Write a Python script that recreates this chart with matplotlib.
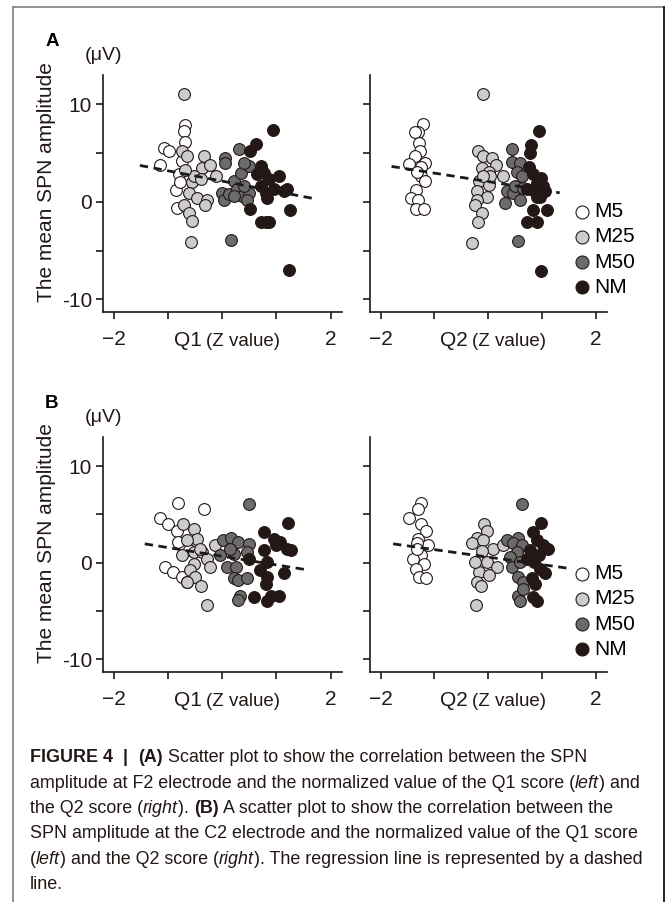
import matplotlib
matplotlib.use("Agg")
import matplotlib.pyplot as plt
from matplotlib.lines import Line2D

plt.rcParams['font.family'] = ['Liberation Sans', 'DejaVu Sans']

W, H = 666, 902

# ---------------- data ----------------
groups = ["M5", "M25", "M50", "NM"]
group_colors = ["#ffffff", "#cccccc", "#6b6b6b", "#231815"]

# Panel A, Q1
A_Q1_M5_x = [-1.14, -1.08, -0.99, -0.69, -0.71, -0.68, -0.80, -0.86, -0.83, -0.75, -0.78]
A_Q1_M5_y = [3.8, 5.5, 5.2, 7.9, 7.3, 6.1, 2.8, 1.2, -0.6, 4.2, 2.0]
A_Q1_M25_x = [-0.71, -0.74, -0.65, -0.34, -0.37, -0.22, -0.12, -0.56, -0.52, -0.62, -0.46, -0.28, -0.31, -0.71, -0.62, -0.56, -0.57, -0.40, -0.68]
A_Q1_M25_y = [11.1, 5.2, 4.7, 4.7, 3.5, 3.8, 2.6, 2.0, 2.6, 0.9, 0.4, 0.2, -0.3, -0.3, -1.1, -2.0, -4.1, 2.3, 3.3]
A_Q1_M50_x = [0.06, 0.31, 0.06, 0.22, 0.34, 0.49, 0.40, 0.00, 0.03, 0.12, 0.28, 0.37, 0.49, 0.46, 0.40, 0.22, 0.17]
A_Q1_M50_y = [4.5, 5.4, 4.0, 2.1, 3.0, 3.7, 4.0, 0.9, 0.2, 0.8, 1.3, 0.6, 0.9, 0.2, 1.6, 0.6, -3.9]
A_Q1_NM_x = [0.62, 0.52, 0.93, 0.71, 0.77, 0.65, 0.86, 1.05, 0.71, 0.80, 0.83, 0.96, 1.14, 1.20, 0.51, 1.25, 0.72, 0.80, 0.86, 1.23]
A_Q1_NM_y = [5.9, 5.2, 7.4, 3.7, 3.0, 2.8, 2.3, 2.6, 1.6, 0.9, 0.4, 1.3, 1.1, 1.3, -0.7, -0.8, -2.1, -2.1, -2.1, -7.0]
A_Q1_fit_x = [-1.52, 1.68]
A_Q1_fit_y = [3.73, 0.34]

# Panel A, Q2
A_Q2_M5_x = [-1.21, -1.31, -1.37, -1.29, -1.27, -1.37, -1.48, -1.17, -1.26, -1.26, -1.17, -1.35, -1.43, -1.31, -1.35, -1.20, -1.33]
A_Q2_M5_y = [8.0, 7.2, 7.2, 6.0, 5.2, 4.7, 3.9, 4.0, 3.6, 2.6, 2.1, 1.2, 0.4, 0.2, -0.7, -0.7, 3.1]
A_Q2_M25_x = [-0.09, -0.19, -0.10, 0.07, 0.15, -0.12, 0.01, 0.27, -0.18, 0.01, -0.21, -0.02, -0.21, -0.24, -0.12, -0.19, -0.30, 0.04, -0.10]
A_Q2_M25_y = [11.1, 5.2, 4.7, 4.5, 3.8, 3.5, 3.1, 2.6, 2.1, 1.7, 1.1, 0.5, 0.2, -0.3, -1.2, -2.1, -4.2, 2.6, 2.6]
A_Q2_M50_x = [0.44, 0.44, 0.59, 0.53, 0.62, 0.35, 0.47, 0.59, 0.32, 0.50, 0.56, 0.65]
A_Q2_M50_y = [5.4, 4.1, 4.0, 3.1, 2.6, 1.1, 0.9, 0.2, -0.1, 1.6, -4.0, 1.4]
A_Q2_NM_x = [0.94, 0.80, 0.78, 0.76, 0.84, 0.99, 0.90, 0.72, 0.84, 1.06, 0.90, 0.84, 1.10, 0.73, 0.90, 0.99, 0.96, 1.02]
A_Q2_NM_y = [7.3, 5.8, 5.0, 3.6, 2.8, 2.4, 1.9, 1.3, 1.2, 1.1, 0.5, -0.8, -0.8, -2.1, -2.1, -7.1, 0.5, 1.6]
A_Q2_fit_x = [-1.80, 1.33]
A_Q2_fit_y = [3.63, 0.92]

# Panel B, Q1
B_Q1_M5_x = [-0.82, -0.33, -1.15, -1.00, -0.84, -0.81, -1.06, -0.90, -0.75, -0.65, -0.62]
B_Q1_M5_y = [6.2, 5.6, 4.6, 4.0, 3.3, 2.1, -0.4, -1.0, -1.5, -2.0, 1.3]
B_Q1_M25_x = [-0.72, -0.53, -0.47, -0.65, -0.13, -0.75, -0.53, -0.38, -0.28, -0.22, -0.53, -0.59, -0.50, -0.65, -0.39, -0.28, -0.41]
B_Q1_M25_y = [4.0, 3.5, 2.5, 2.3, 1.8, 0.8, 1.1, 1.1, 0.4, -0.4, -0.1, -0.8, -1.5, -2.0, -2.4, -4.4, 1.4]
B_Q1_M50_x = [0.49, 0.02, 0.17, 0.30, 0.49, -0.04, 0.21, 0.09, 0.26, 0.46, 0.21, 0.30, 0.46, 0.33, 0.30, 0.15]
B_Q1_M50_y = [6.1, 2.3, 2.6, 2.1, 1.9, 0.8, 0.9, -0.4, -0.4, 1.1, -1.6, -1.8, -1.6, -3.4, -3.9, 1.4]
B_Q1_NM_x = [1.21, 0.77, 0.95, 1.07, 1.20, 1.26, 0.77, 0.49, 0.83, 0.70, 1.14, 0.83, 0.80, 0.58, 0.83, 1.04, 0.90, 1.00]
B_Q1_NM_y = [4.1, 3.2, 2.5, 2.1, 1.4, 1.3, 1.3, 0.4, 0.1, -0.8, -1.1, -1.5, -2.2, -3.5, -4.0, -3.4, -3.4, 1.8]
B_Q1_fit_x = [-1.43, 1.55]
B_Q1_fit_y = [1.95, -0.72]

# Panel B, Q2
B_Q2_M5_x = [-1.26, -1.31, -1.48, -1.26, -1.15, -1.31, -1.12, -1.26, -1.40, -1.20, -1.35, -1.28, -1.15, -1.32, -1.33]
B_Q2_M5_y = [6.2, 5.6, 4.6, 4.0, 3.3, 2.5, 1.8, 0.8, 0.4, -0.1, -0.6, -1.5, -1.6, 2.0, 1.4]
B_Q2_M25_x = [-0.07, -0.02, -0.21, -0.30, -0.10, 0.09, -0.12, 0.28, -0.02, 0.16, -0.18, 0.01, -0.21, -0.14, -0.23, -0.24]
B_Q2_M25_y = [4.0, 3.3, 2.6, 2.0, 2.4, 1.4, 1.2, 1.8, 0.1, -0.4, -1.0, -1.3, -2.0, -2.4, -4.4, 0.1]
B_Q2_M50_x = [0.62, 0.35, 0.56, 0.47, 0.62, 0.53, 0.41, 0.44, 0.59, 0.56, 0.64, 0.56, 0.59, 0.65]
B_Q2_M50_y = [6.1, 2.3, 2.6, 2.0, 1.8, 1.1, 0.6, -0.4, 0.1, -1.5, -2.0, -3.4, -4.0, -2.7]
B_Q2_NM_x = [0.99, 0.83, 0.91, 1.12, 1.02, 0.78, 0.94, 0.85, 0.96, 1.06, 0.81, 0.87, 0.84, 0.90, 0.72]
B_Q2_NM_y = [4.1, 3.2, 2.3, 1.4, 1.8, 1.3, 0.8, 0.1, -0.6, -1.1, -1.6, -2.2, -3.5, -4.0, 0.4]
B_Q2_fit_x = [-1.77, 1.46]
B_Q2_fit_y = [1.95, -0.55]

x_ticks = [-2, -1, 0, 1, 2]
x_ticklabels = ["\u22122", "", "", "", "2"]
y_ticks = [-10, -5, 0, 5, 10]
y_ticklabels = ["-10", "", "0", "", "10"]
y_label = "The mean SPN amplitude"
unit_label = "(\u03bcV)"
caption_lines = [
    [("FIGURE 4", "bold", "normal"), ("  |  ", "bold", "normal"), ("(A)", "bold", "normal"),
     (" Scatter plot to show the correlation between the SPN", "normal", "normal")],
    [("amplitude at F2 electrode and the normalized value of the Q1 score (", "normal", "normal"),
     ("left", "normal", "italic"), (") and", "normal", "normal")],
    [("the Q2 score (", "normal", "normal"), ("right", "normal", "italic"), ("). ", "normal", "normal"),
     ("(B)", "bold", "normal"), (" A scatter plot to show the correlation between the", "normal", "normal")],
    [("SPN amplitude at the C2 electrode and the normalized value of the Q1 score", "normal", "normal")],
    [("(", "normal", "normal"), ("left", "normal", "italic"), (") and the Q2 score (", "normal", "normal"),
     ("right", "normal", "italic"), ("). The regression line is represented by a dashed", "normal", "normal")],
    [("line.", "normal", "normal")],
]

panels = [
    dict(pos=(103, 75, 342, 312), q="Q1",
         data=[(A_Q1_M5_x, A_Q1_M5_y), (A_Q1_M25_x, A_Q1_M25_y), (A_Q1_M50_x, A_Q1_M50_y), (A_Q1_NM_x, A_Q1_NM_y)],
         fit=(A_Q1_fit_x, A_Q1_fit_y), left=True, letter="A", legend=False),
    dict(pos=(370, 75, 607, 312), q="Q2",
         data=[(A_Q2_M5_x, A_Q2_M5_y), (A_Q2_M25_x, A_Q2_M25_y), (A_Q2_M50_x, A_Q2_M50_y), (A_Q2_NM_x, A_Q2_NM_y)],
         fit=(A_Q2_fit_x, A_Q2_fit_y), left=False, letter=None, legend=True),
    dict(pos=(103, 437, 342, 672), q="Q1",
         data=[(B_Q1_M5_x, B_Q1_M5_y), (B_Q1_M25_x, B_Q1_M25_y), (B_Q1_M50_x, B_Q1_M50_y), (B_Q1_NM_x, B_Q1_NM_y)],
         fit=(B_Q1_fit_x, B_Q1_fit_y), left=True, letter="B", legend=False),
    dict(pos=(370, 437, 607, 672), q="Q2",
         data=[(B_Q2_M5_x, B_Q2_M5_y), (B_Q2_M25_x, B_Q2_M25_y), (B_Q2_M50_x, B_Q2_M50_y), (B_Q2_NM_x, B_Q2_NM_y)],
         fit=(B_Q2_fit_x, B_Q2_fit_y), left=False, letter=None, legend=True),
]

# ---------------- drawing ----------------
fig = plt.figure(figsize=(W / 100, H / 100), dpi=100)
fig.patch.set_facecolor("white")

def fx(x):
    return x / W

def fy(y):
    return 1 - y / H

edge = "#231815"
for p in panels:
    x0, y0, x1, y1 = p["pos"]
    ax = fig.add_axes([fx(x0), fy(y1), (x1 - x0) / W, (y1 - y0) / H])
    for (gx, gy), c, g in zip(p["data"], group_colors, groups):
        ax.scatter(gx, gy, s=72, facecolor=c, edgecolor=edge, linewidth=0.8, zorder=3, label=g)
    ax.plot(p["fit"][0], p["fit"][1], color="#1a1a1a", lw=2.0, ls=(0, (3.0, 2.0)), zorder=5)
    ax.set_xlim(-2.2, 2.21)
    ax.set_ylim(-11.3, 13.0)
    for s in ["top", "right"]:
        ax.spines[s].set_visible(False)
    for s in ["left", "bottom"]:
        ax.spines[s].set_linewidth(1.2)
        ax.spines[s].set_color("#231815")
    ax.set_xticks(x_ticks)
    ax.set_xticklabels(x_ticklabels)
    ax.set_yticks(y_ticks)
    if p["left"]:
        ax.set_yticklabels(y_ticklabels)
    else:
        ax.set_yticklabels([])
    ax.tick_params(axis="both", direction="out", length=5, width=1.2, color="#231815",
                   labelsize=15, labelcolor="#231815", pad=3)
    ax.tick_params(axis="x", pad=8)
    xc = x0 + (x1 - x0) * (0 + 2.2) / 4.41 + 4
    fig.text(fx(xc - 24), fy(y1 + 29), p["q"], fontsize=15, ha="right", va="center", color="#231815")
    fig.text(fx(xc - 20), fy(y1 + 29), "(Z value)", fontsize=13.5, ha="left", va="center",
             color="#231815")
    if p["left"]:
        fig.text(fx(47), fy((y0 + y1) / 2 - 11), y_label, rotation=90, fontsize=15,
                 ha="center", va="center", color="#231815")
        fig.text(fx(104), fy(y0 - 19), unit_label, fontsize=14, ha="center", va="center",
                 color="#231815")
    if p["letter"]:
        fig.text(fx(52), fy(y0 - 34), p["letter"], fontsize=13.5, fontweight="bold",
                 ha="center", va="center", color="black")
    if p["legend"]:
        ax.legend(loc="upper left", bbox_to_anchor=((582 - 13 - x0) / (x1 - x0), 1 - (127) / (y1 - y0)),
                  frameon=False, fontsize=15, handletextpad=0.0, labelspacing=0.3,
                  markerscale=1.1, borderpad=0, borderaxespad=0, handlelength=1.2)

# frame
fig.add_artist(Line2D([fx(13), fx(13)], [fy(7), 0], color="#888888", lw=1.3, transform=fig.transFigure))
fig.add_artist(Line2D([fx(13), fx(664)], [fy(7), fy(7)], color="#888888", lw=1.3, transform=fig.transFigure))
fig.add_artist(Line2D([fx(664), fx(664)], [fy(7), 0], color="#111111", lw=1.3, transform=fig.transFigure))

# caption
renderer = fig.canvas.get_renderer()
y_line = 758
for line in caption_lines:
    xcur = 30
    for txt, weight, style in line:
        t = fig.text(fx(xcur), fy(y_line), txt, fontsize=12.9, fontweight=weight, fontstyle=style,
                     ha="left", va="center", color="#231815")
        bb = t.get_window_extent(renderer)
        xcur += bb.width
    y_line += 25.3

fig.savefig("out.png", dpi=100, facecolor="white")
